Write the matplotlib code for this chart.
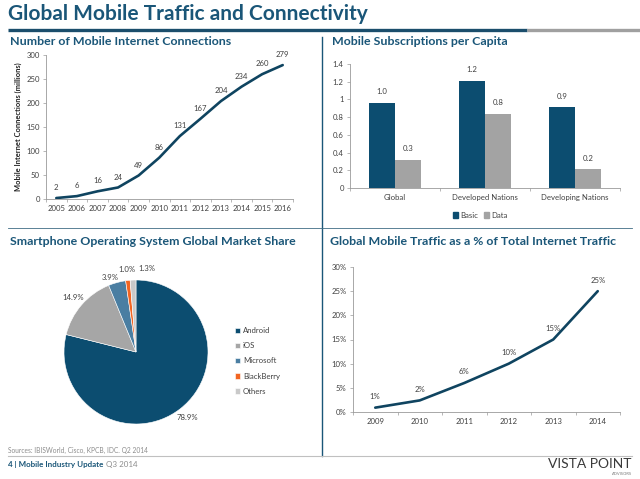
import numpy as np
import matplotlib
matplotlib.use("Agg")
import matplotlib.pyplot as plt
from matplotlib.patches import Patch

plt.rcParams["font.family"] = ["Lato", "DejaVu Sans"]

# ---- data ----
conn_years = ["2005", "2006", "2007", "2008", "2009", "2010",
              "2011", "2012", "2013", "2014", "2015", "2016"]
conn_values = [2, 6, 16, 24, 49, 86, 131, 167, 204, 234, 260, 279]

subs_groups = ["Global", "Developed Nations", "Developing Nations"]
subs_basic = [0.96, 1.21, 0.91]
subs_data = [0.32, 0.84, 0.21]
subs_basic_labels = ["1.0", "1.2", "0.9"]
subs_data_labels = ["0.3", "0.8", "0.2"]

os_names = ["Android", "iOS", "Microsoft", "BlackBerry", "Others"]
os_share = [78.9, 14.9, 3.9, 1.0, 1.3]

traffic_years = ["2009", "2010", "2011", "2012", "2013", "2014"]
traffic_values = [0.9, 2.4, 6.0, 10.0, 15.0, 25.0]
traffic_labels = ["1%", "2%", "6%", "10%", "15%", "25%"]

# ---- styles ----
g_blue = "#1A5678"
g_line = "#0F4460"
g_navy = "#0C4D70"
g_gray = "#A3A3A3"
g_text = "#404040"
g_spine = "#9A9A9A"
g_tick_fs = 5.6
g_title_fs = 8.9

W, H = 640.0, 479.0


def box(left, top, right, bottom):
    return [left / W, 1 - bottom / H, (right - left) / W, (bottom - top) / H]


def style_axes(ax, ncat):
    for s in ["top", "right"]:
        ax.spines[s].set_visible(False)
    for s in ["left", "bottom"]:
        ax.spines[s].set_color(g_spine)
        ax.spines[s].set_linewidth(0.6)
    ax.tick_params(axis="y", length=2.5, width=0.5, color=g_spine,
                   labelsize=g_tick_fs, labelcolor=g_text, pad=2)
    ax.tick_params(axis="x", which="major", length=0, labelsize=g_tick_fs,
                   labelcolor=g_text, pad=4.5)
    ax.set_xticks(np.arange(-0.5, ncat, 1.0), minor=True)
    ax.tick_params(axis="x", which="minor", length=2.5, width=0.5, color=g_spine)
    ax.set_xlim(-0.5, ncat - 0.5)


fig = plt.figure(figsize=(6.4, 4.79), dpi=100)
bg = fig.add_axes([0, 0, 1, 1])
bg.set_xlim(0, W)
bg.set_ylim(H, 0)
bg.axis("off")

# header
bg.text(8, 14, "Global Mobile Traffic and Connectivity", fontsize=15,
        fontweight="bold", color=g_blue, va="center", ha="left")
bg.plot([8, 527], [30, 30], color="#1B4E6C", lw=2.4, solid_capstyle="butt")
bg.plot([527, 640], [30, 30], color="#A0A0A0", lw=2.4, solid_capstyle="butt")
bg.plot([322, 322], [37, 456], color=g_blue, lw=1.0)
bg.plot([8, 632], [228, 228], color="#3F6C85", lw=0.6)

# panel titles
bg.text(10, 41, "Number of Mobile Internet Connections", fontsize=g_title_fs,
        fontweight="bold", color=g_blue, va="center")
bg.text(332, 41, "Mobile Subscriptions per Capita", fontsize=g_title_fs,
        fontweight="bold", color=g_blue, va="center")
bg.text(10, 241, "Smartphone Operating System Global Market Share", fontsize=g_title_fs,
        fontweight="bold", color=g_blue, va="center")
bg.text(330, 241, "Global Mobile Traffic as a % of Total Internet Traffic", fontsize=g_title_fs,
        fontweight="bold", color=g_blue, va="center")

# ---- panel 1: connections line ----
ax1 = fig.add_axes(box(46, 55, 293, 199))
x1 = np.arange(len(conn_years))
ax1.plot(x1, conn_values, color=g_line, lw=1.9, solid_capstyle="round")
style_axes(ax1, len(conn_years))
ax1.set_xticks(x1)
ax1.set_xticklabels(conn_years)
ax1.set_ylim(0, 300)
ax1.set_yticks(np.arange(0, 301, 50))
for xi, v in zip(x1, conn_values):
    ax1.annotate(str(v), (xi, v), xytext=(0, 7.5), textcoords="offset points",
                 ha="center", va="center", fontsize=g_tick_fs, color=g_text)
bg.text(18, 127, "Mobile Internet Connections (millions)", rotation=90,
        fontsize=5.4, fontweight="bold", color="#202020", ha="center", va="center")

# ---- panel 2: subscriptions bars ----
ax2 = fig.add_axes(box(350, 64, 620, 188))
x2 = np.arange(len(subs_groups))
bw = 0.29
b1 = ax2.bar(x2 - bw / 2, subs_basic, bw, color=g_navy, label="Basic")
b2 = ax2.bar(x2 + bw / 2, subs_data, bw, color=g_gray, label="Data")
style_axes(ax2, len(subs_groups))
ax2.set_xticks(x2)
ax2.set_xticklabels(subs_groups)
ax2.set_ylim(0, 1.4)
ax2.set_yticks(np.arange(0, 1.41, 0.2))
ax2.set_yticklabels(["0", "0.2", "0.4", "0.6", "0.8", "1", "1.2", "1.4"])
for rects, labs in [(b1, subs_basic_labels), (b2, subs_data_labels)]:
    for r, lab in zip(rects, labs):
        ax2.annotate(lab, (r.get_x() + r.get_width() / 2, r.get_height()),
                     xytext=(0, 8), textcoords="offset points", ha="center",
                     va="center", fontsize=g_tick_fs, color=g_text)
fig.legend(handles=[Patch(color=g_navy), Patch(color=g_gray)], labels=["Basic", "Data"],
           loc="center", bbox_to_anchor=(480 / W, 1 - 215 / H), ncol=2, frameon=False,
           fontsize=g_tick_fs, handlelength=0.7, handleheight=0.7, handletextpad=0.2,
           columnspacing=0.8, labelcolor=g_text)

# ---- panel 3: pie ----
ax3 = fig.add_axes(box(64, 280, 208, 424))
pie_colors = ["#0C4D70", "#A6A6A6", "#4A7EA2", "#F26522", "#C9C9C9"]
wedges, _ = ax3.pie(os_share, colors=pie_colors, startangle=90, counterclock=False,
                    wedgeprops=dict(edgecolor="white", linewidth=0.4))
for i, (w, s) in enumerate(zip(wedges, os_share)):
    ang = np.deg2rad((w.theta1 + w.theta2) / 2)
    px, py = 1.16 * np.cos(ang), 1.16 * np.sin(ang)
    if os_names[i] == "Others":
        px += 0.2
    if os_names[i] == "Microsoft":
        px -= 0.05
        py -= 0.08
    ax3.text(px, py, "%.1f%%" % s, ha="center", va="center",
             fontsize=g_tick_fs, color=g_text)
ax3.set_xlim(-1, 1)
ax3.set_ylim(-1, 1)
ax3.set_aspect("equal")
fig.legend(handles=wedges, labels=os_names, loc="upper left",
           bbox_to_anchor=(228 / W, 1 - 320 / H), frameon=False, fontsize=g_tick_fs,
           handlelength=0.7, handleheight=0.7, handletextpad=0.3, labelspacing=1.05,
           labelcolor=g_text)

# ---- panel 4: traffic line ----
ax4 = fig.add_axes(box(353, 267, 620, 412))
x4 = np.arange(len(traffic_years))
ax4.plot(x4, traffic_values, color=g_line, lw=1.9, solid_capstyle="round")
style_axes(ax4, len(traffic_years))
ax4.set_xticks(x4)
ax4.set_xticklabels(traffic_years)
ax4.set_ylim(0, 30)
ax4.set_yticks(np.arange(0, 31, 5))
ax4.set_yticklabels(["%d%%" % v for v in range(0, 31, 5)])
for xi, v, lab in zip(x4, traffic_values, traffic_labels):
    ax4.annotate(lab, (xi, v), xytext=(0, 8), textcoords="offset points",
                 ha="center", va="center", fontsize=g_tick_fs, color=g_text)

# ---- footer ----
bg.text(8, 450, "Sources: IBISWorld, Cisco, KPCB, IDC. Q2 2014", fontsize=4.8,
        color="#8C8C8C", va="center")
bg.plot([8, 632], [456, 456], color="#C0C0C0", lw=0.8)
t1 = bg.text(8, 465, "4 | Mobile Industry Update", fontsize=5.8, fontweight="bold",
             color=g_blue, va="center")
bg.annotate("Q3 2014", xy=(1, 0.5), xycoords=t1, xytext=(2, 0),
            textcoords="offset points", fontsize=5.8, color="#8C8C8C", va="center")
bg.text(632, 464, "VISTA POINT", fontsize=10, color="#3A3A3A", ha="right", va="center")
bg.text(632, 474, "ADVISORS", fontsize=3, color="#7A7A7A", ha="right", va="center")

plt.savefig("out.png", dpi=100)
